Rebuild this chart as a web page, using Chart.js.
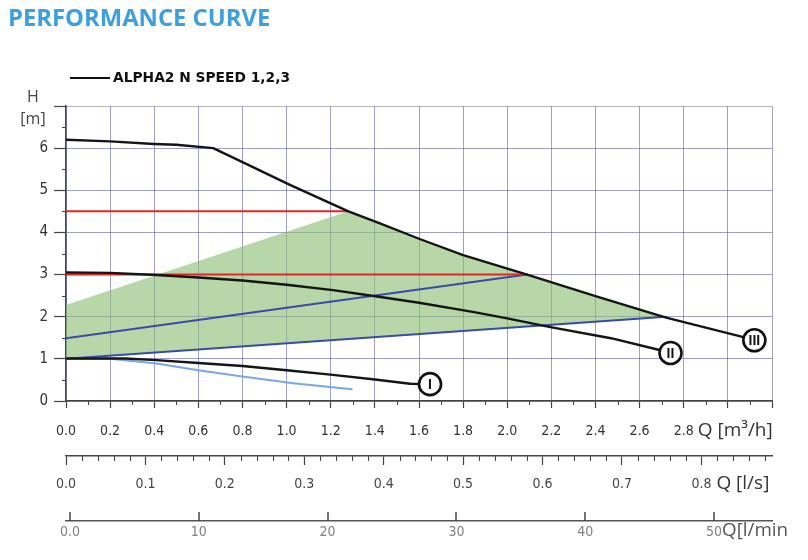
<!DOCTYPE html>
<html><head><meta charset="utf-8">
<script src="https://cdn.jsdelivr.net/npm/chart.js@4.4.0/dist/chart.umd.min.js"></script>
<style>html,body{margin:0;padding:0;background:#fff;}canvas{display:block;}</style>
</head><body>
<canvas id="c" width="808" height="560"></canvas>
<script>
// ---------- texts ----------
const TITLE = 'PERFORMANCE CURVE';
const LEGEND_LABEL = 'ALPHA2 N SPEED 1,2,3';
const Y_TITLE = ['H', '[m]'];
const UNIT_M3H = 'Q [m\u00B3/h]';
const UNIT_LS = 'Q [l/s]';
const UNIT_LMIN = 'Q[l/min';

// ---------- axis ticks ----------
const Y_TICKS = [0, 1, 2, 3, 4, 5, 6, 7];
const Y_LABELS = ['0', '1', '2', '3', '4', '5', '6', ''];
const Y_MINOR = [0.5, 1.5, 2.5, 3.5, 4.5, 5.5, 6.5];
const M3H_TICKS = [0, 0.2, 0.4, 0.6, 0.8, 1.0, 1.2, 1.4, 1.6, 1.8, 2.0, 2.2, 2.4, 2.6, 2.8, 3.0, 3.2];
const M3H_LABELS = ['0.0','0.2','0.4','0.6','0.8','1.0','1.2','1.4','1.6','1.8','2.0','2.2','2.4','2.6','2.8','',''];
const M3H_MINOR = [0.1, 0.3, 0.5, 0.7, 0.9, 1.1, 1.3, 1.5, 1.7, 1.9, 2.1, 2.3, 2.5, 2.7, 2.9, 3.1];
const LS_TICKS = [0, 0.1, 0.2, 0.3, 0.4, 0.5, 0.6, 0.7, 0.8];
const LS_LABELS = ['0.0','0.1','0.2','0.3','0.4','0.5','0.6','0.7','0.8'];
const LS_MINOR = [0.02,0.04,0.06,0.08,0.12,0.14,0.16,0.18,0.22,0.24,0.26,0.28,0.32,0.34,0.36,0.38,
                  0.42,0.44,0.46,0.48,0.52,0.54,0.56,0.58,0.62,0.64,0.66,0.68,0.72,0.74,0.76,0.78,0.82,0.84,0.86,0.88];
const LMIN_TICKS = [0, 10, 20, 30, 40, 50];
const LMIN_LABELS = ['0.0', '10', '20', '30', '40', '50'];

// ---------- series (Q in m3/h, H in m) ----------
const speed3Q = [0, 0.2, 0.4, 0.5, 0.667, 0.8, 1.015, 1.2, 1.28, 1.42, 1.6, 1.8, 2.09, 2.4, 2.72, 3.12];
const speed3H = [6.2, 6.16, 6.1, 6.08, 6.0, 5.67, 5.13, 4.69, 4.5, 4.22, 3.85, 3.46, 3.0, 2.49, 1.98, 1.45];
const speed2Q = [0, 0.2, 0.41, 0.6, 0.8, 1.0, 1.21, 1.41, 1.6, 1.85, 2.0, 2.19, 2.47, 2.69, 2.74];
const speed2H = [3.05, 3.04, 2.99, 2.93, 2.86, 2.76, 2.63, 2.48, 2.33, 2.11, 1.96, 1.76, 1.49, 1.21, 1.14];
const speed1Q = [0, 0.27, 0.41, 0.6, 0.8, 1.0, 1.21, 1.4, 1.56, 1.65];
const speed1H = [1.01, 1.01, 0.97, 0.9, 0.83, 0.73, 0.62, 0.51, 0.41, 0.40];
const lowQ = [0, 0.2, 0.41, 0.6, 0.8, 1.03, 1.295];
const lowH = [1.01, 1.0, 0.89, 0.73, 0.58, 0.42, 0.28];
const constHighQ = [0, 1.28];
const constHighH = [4.5, 4.5];
const constLowQ = [0, 2.09];
const constLowH = [3.0, 3.0];
const propHighQ = [0, 2.09];
const propHighH = [1.49, 3.0];
const propLowQ = [0, 2.72];
const propLowH = [1.0, 2.0];
const areaTopQ = [0, 1.28, 1.42, 1.6, 1.8, 2.09, 2.4, 2.72];
const areaTopH = [2.28, 4.5, 4.22, 3.85, 3.46, 3.0, 2.49, 1.98];
const markerQ = [1.65, 2.74, 3.12];
const markerH = [0.40, 1.14, 1.44];
const markerText = ['I', 'II', 'III'];

const pts = (xs, ys) => xs.map((x, i) => ({x, y: ys[i]}));
const FONT = '"Liberation Sans Narrow", "DejaVu Sans Condensed", "Open Sans", sans-serif';
const GRID = 'rgba(95,95,170,0.6)';

function lineDs(q, h, color, width, order) {
  return {data: pts(q, h), showLine: true, borderColor: color, borderWidth: width,
          pointRadius: 0, fill: false, tension: 0, order, borderJoinStyle: 'round', borderCapStyle: 'round'};
}

const datasets = [
  {data: pts(markerQ, markerH), showLine: false, pointStyle: 'circle', pointRadius: 11,
   pointBorderWidth: 2.6, pointBorderColor: '#111', pointBackgroundColor: '#fff', order: 0},
  lineDs(speed3Q, speed3H, '#151515', 2.4, 1),
  lineDs(speed2Q, speed2H, '#151515', 2.4, 1),
  lineDs(speed1Q, speed1H, '#151515', 2.4, 1),
  lineDs(lowQ, lowH, '#79a6e4', 2, 2),
  lineDs(constHighQ, constHighH, '#e2272b', 2, 2),
  lineDs(constLowQ, constLowH, '#e2272b', 2, 2),
  lineDs(propHighQ, propHighH, '#3a4aa8', 2, 2),
  lineDs(propLowQ, propLowH, '#3a4aa8', 2, 2),
  {data: pts(areaTopQ, areaTopH), showLine: true, borderWidth: 0, borderColor: 'rgba(0,0,0,0)',
   backgroundColor: 'rgba(140,190,115,0.62)', pointRadius: 0, fill: 8, tension: 0, order: 5}
];

function fitFont(ctx, text, weight, family, target, maxSize) {
  let size = maxSize;
  ctx.font = weight + ' ' + size + 'px ' + family;
  const w = ctx.measureText(text).width;
  size = Math.min(maxSize, size * target / w);
  ctx.font = weight + ' ' + size.toFixed(1) + 'px ' + family;
}

const decor = {
  id: 'decor',
  afterDatasetsDraw(chart) {
    const ctx = chart.ctx;
    const meta = chart.getDatasetMeta(0);
    ctx.save();
    ctx.fillStyle = '#111';
    ctx.font = 'bold 14px "Liberation Sans", Arial, sans-serif';
    ctx.textAlign = 'center'; ctx.textBaseline = 'middle';
    meta.data.forEach((p, i) => ctx.fillText(markerText[i], p.x, p.y + 1));
    ctx.restore();
  },
  afterDraw(chart) {
    const ctx = chart.ctx, s = chart.scales;
    const seg = (x1, y1, x2, y2) => { ctx.beginPath(); ctx.moveTo(x1, y1); ctx.lineTo(x2, y2); ctx.stroke(); };
    ctx.save();
    ctx.strokeStyle = '#444'; ctx.lineWidth = 1;
    Y_MINOR.forEach(v => { const p = Math.round(s.y.getPixelForValue(v)) + 0.5; seg(s.y.right - 4, p, s.y.right, p); });
    M3H_MINOR.forEach(v => { const p = Math.round(s.x.getPixelForValue(v)) + 0.5; seg(p, s.x.top, p, s.x.top + 4); });
    LS_MINOR.forEach(v => { const p = Math.round(s.x2.getPixelForValue(v)) + 0.5; seg(p, s.x2.top, p, s.x2.top + 5); });
    ctx.lineWidth = 1.5;
    LMIN_TICKS.forEach(v => { const p = Math.round(s.x3.getPixelForValue(v)); seg(p, s.x3.top - 9, p, s.x3.top); });

    ctx.textAlign = 'left'; ctx.textBaseline = 'middle';
    // title
    ctx.fillStyle = '#3d9fe0';
    fitFont(ctx, TITLE, 'bold', '"Open Sans", sans-serif', 262, 24);
    ctx.fillText(TITLE, 8, 19);
    // legend
    ctx.strokeStyle = '#111'; ctx.lineWidth = 2;
    seg(70, 78, 110, 78);
    ctx.fillStyle = '#111';
    fitFont(ctx, LEGEND_LABEL, 'bold', '"DejaVu Sans", sans-serif', 177, 15);
    ctx.fillText(LEGEND_LABEL, 113, 78);
    // y title
    ctx.fillStyle = '#444';
    ctx.font = '16px "Open Sans", sans-serif';
    ctx.textAlign = 'center';
    ctx.fillText(Y_TITLE[0], 33, 97);
    ctx.fillText(Y_TITLE[1], 33, 119);
    // units
    ctx.textAlign = 'left';
    ctx.fillStyle = '#333';
    fitFont(ctx, UNIT_M3H, '', '"Open Sans", sans-serif', 77, 19);
    ctx.fillText(UNIT_M3H, s.x.getPixelForValue(2.8) + 14, 431);
    fitFont(ctx, UNIT_LS, '', '"Open Sans", sans-serif', 59, 19);
    ctx.fillText(UNIT_LS, s.x2.getPixelForValue(0.8) + 15, 484);
    ctx.fillStyle = '#555';
    fitFont(ctx, UNIT_LMIN, '', '"Open Sans", sans-serif', 66, 19);
    ctx.fillText(UNIT_LMIN, s.x3.getPixelForValue(50) + 8, 531);
    ctx.restore();
  }
};

new Chart(document.getElementById('c'), {
  type: 'scatter',
  data: {datasets},
  options: {
    responsive: false, animation: false, devicePixelRatio: 1,
    layout: {padding: {top: 106, right: 36, bottom: 9, left: 0}},
    plugins: {legend: {display: false}, tooltip: {enabled: false}, title: {display: false}},
    scales: {
      y: {
        type: 'linear', position: 'left', min: 0, max: 7,
        afterBuildTicks: sc => { sc.ticks = Y_TICKS.map(v => ({value: v})); },
        afterFit: sc => { sc.width = 66; },
        grid: {color: c => c.index === Y_TICKS.length - 1 ? '#b4b4b4' : GRID, lineWidth: 1,
               tickLength: 12, tickColor: '#444', tickWidth: 1.2},
        border: {color: '#444', width: 1.5},
        ticks: {padding: 6, color: '#333', font: {family: FONT, size: 15},
                callback: (v, i) => Y_LABELS[i]}
      },
      x: {
        type: 'linear', position: 'bottom', weight: 0, min: 0, max: 3.2,
        afterBuildTicks: sc => { sc.ticks = M3H_TICKS.map(v => ({value: v})); },
        afterFit: sc => { sc.height = 55; },
        grid: {color: c => c.index === M3H_TICKS.length - 1 ? '#a8a8a8' : GRID, lineWidth: 1,
               tickLength: 7, tickColor: '#444', tickWidth: 1.2},
        border: {color: '#444', width: 1.5},
        ticks: {padding: 15, color: '#333', maxRotation: 0, autoSkip: false,
                font: {family: FONT, size: 14}, callback: (v, i) => M3H_LABELS[i]}
      },
      x2: {
        type: 'linear', position: 'bottom', weight: 1, min: 0, max: 0.8889,
        afterBuildTicks: sc => { sc.ticks = LS_TICKS.map(v => ({value: v})); },
        afterFit: sc => { sc.height = 65; },
        grid: {drawOnChartArea: false, tickLength: 9, tickColor: '#444', tickWidth: 1.2},
        border: {color: '#444', width: 1.5},
        ticks: {padding: 11, color: '#444', maxRotation: 0, autoSkip: false,
                font: {family: FONT, size: 14}, callback: (v, i) => LS_LABELS[i]}
      },
      x3: {
        type: 'linear', position: 'bottom', weight: 2, min: -0.31, max: 54.5,
        afterBuildTicks: sc => { sc.ticks = LMIN_TICKS.map(v => ({value: v})); },
        afterFit: sc => { sc.height = 30; },
        grid: {drawOnChartArea: false, drawTicks: false},
        border: {color: '#555', width: 1.5},
        ticks: {padding: 3, color: '#808080', maxRotation: 0, autoSkip: false,
                font: {family: FONT, size: 14}, callback: (v, i) => LMIN_LABELS[i]}
      }
    }
  },
  plugins: [decor]
});
</script>
</body></html>
